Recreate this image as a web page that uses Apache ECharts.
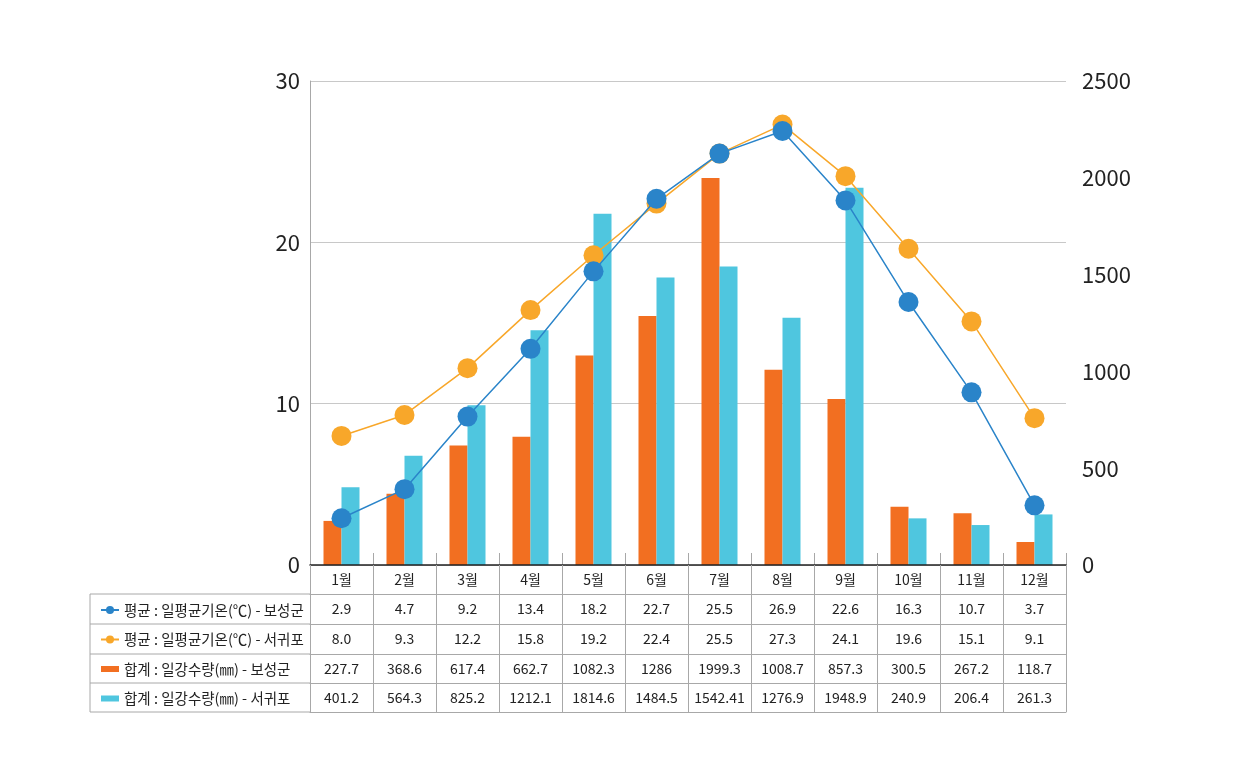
<!DOCTYPE html>
<html><head><meta charset="utf-8">
<script src="https://cdn.jsdelivr.net/npm/echarts@6/dist/echarts.min.js"></script>
<style>html,body{margin:0;padding:0;background:#fff}#c{width:1240px;height:773px}</style>
</head><body><div id="c"></div>
<script>
const months = ['1월','2월','3월','4월','5월','6월','7월','8월','9월','10월','11월','12월'];
const tempBoseong = [2.9, 4.7, 9.2, 13.4, 18.2, 22.7, 25.5, 26.9, 22.6, 16.3, 10.7, 3.7];
const tempSeogwipo = [8.0, 9.3, 12.2, 15.8, 19.2, 22.4, 25.5, 27.3, 24.1, 19.6, 15.1, 9.1];
const rainBoseong = [227.7, 368.6, 617.4, 662.7, 1082.3, 1286, 1999.3, 1008.7, 857.3, 300.5, 267.2, 118.7];
const rainSeogwipo = [401.2, 564.3, 825.2, 1212.1, 1814.6, 1484.5, 1542.41, 1276.9, 1948.9, 240.9, 206.4, 261.3];
const names = ['평균 : 일평균기온(℃) - 보성군','평균 : 일평균기온(℃) - 서귀포','합계 : 일강수량(㎜) - 보성군','합계 : 일강수량(㎜) - 서귀포'];
const leftTicks = [0, 10, 20, 30];
const rightTicks = [0, 500, 1000, 1500, 2000, 2500];

const C_BLUE = '#2a84c9', C_ORANGE = '#f8a72a', C_BAR1 = '#f26f21', C_BAR2 = '#4fc6df';
const FONT = '"Noto Sans CJK KR", "Noto Sans", sans-serif';
const GRID_L = 310, GRID_R = 1066, AXIS_Y = 565;
const rowLines = [594, 624, 654, 683, 712];
const rowStrings = [
  tempBoseong.map(v => v.toFixed(1)),
  tempSeogwipo.map(v => v.toFixed(1)),
  rainBoseong.map(v => String(v)),
  rainSeogwipo.map(v => String(v))
];

const chart = echarts.init(document.getElementById('c'));
const gridLine = '#a8a8a8';

const xAxes = [{
  type: 'category', data: months, gridIndex: 0, position: 'bottom', offset: 0,
  axisLine: { show: true, lineStyle: { color: '#222', width: 1.5 } },
  axisTick: { show: true, interval: 0, length: rowLines[0] - AXIS_Y, lineStyle: { color: gridLine } },
  axisLabel: { interval: 0, margin: 8, fontSize: 14, color: '#222', fontFamily: FONT },
  z: 5
}, {
  type: 'category', data: months, gridIndex: 0, position: 'bottom', offset: 0,
  axisLine: { show: false },
  axisTick: { show: true, inside: true, interval: 0, length: 12, lineStyle: { color: gridLine } },
  axisLabel: { show: false }
}];
rowStrings.forEach((arr, i) => {
  xAxes.push({
    type: 'category', data: months, gridIndex: 0, position: 'bottom',
    offset: rowLines[i] - AXIS_Y,
    axisLine: { show: true, lineStyle: { color: gridLine } },
    axisTick: { show: true, interval: 0, length: rowLines[i + 1] - rowLines[i], lineStyle: { color: gridLine } },
    axisLabel: { interval: 0, margin: 8, fontSize: 14, color: '#222', fontFamily: FONT,
      formatter: (v, idx) => arr[idx] },
  });
});
xAxes.push({
  type: 'category', data: months, gridIndex: 0, position: 'bottom',
  offset: rowLines[4] - AXIS_Y,
  axisLine: { show: true, lineStyle: { color: gridLine } },
  axisTick: { show: false }, axisLabel: { show: false }
});

const graphicEls = rowLines.map(y => ({
  type: 'line', shape: { x1: 90, y1: y, x2: GRID_L, y2: y }, style: { stroke: gridLine, lineWidth: 1 }, silent: true
}));
graphicEls.push({ type: 'line', shape: { x1: 90, y1: rowLines[0], x2: 90, y2: rowLines[4] }, style: { stroke: gridLine, lineWidth: 1 }, silent: true });

const barIcon = 'path://M0,0 M0,2 L18,2 L18,8 L0,8 Z M18,10';

chart.setOption({
  animation: false,
  textStyle: { fontFamily: FONT },
  grid: { left: GRID_L, right: 1240 - GRID_R, top: 81, bottom: 773 - AXIS_Y },
  legend: {
    orient: 'vertical', left: 95, top: 596, itemGap: 11.5,
    itemWidth: 18, itemHeight: 10,
    textStyle: { fontSize: 14.5, color: '#222', lineHeight: 18, fontFamily: FONT },
    data: [
      { name: names[0] },
      { name: names[1] },
      { name: names[2], icon: barIcon },
      { name: names[3], icon: barIcon }
    ],
    selectedMode: false
  },
  xAxis: xAxes,
  yAxis: [{
    type: 'value', min: leftTicks[0], max: leftTicks[leftTicks.length - 1], interval: 10,
    axisLine: { show: true, lineStyle: { color: gridLine } },
    axisTick: { show: false },
    splitLine: { show: true, lineStyle: { color: '#c8c8c8' } },
    axisLabel: { fontSize: 22, color: '#222', margin: 10, fontFamily: FONT }
  }, {
    type: 'value', min: rightTicks[0], max: rightTicks[rightTicks.length - 1], interval: 500,
    position: 'right',
    axisLine: { show: false }, axisTick: { show: false }, splitLine: { show: false },
    axisLabel: { fontSize: 22, color: '#222', margin: 16, fontFamily: FONT, formatter: v => String(v) }
  }],
  series: [{
    name: names[0], type: 'line', data: tempBoseong, yAxisIndex: 0, xAxisIndex: 0,
    symbol: 'circle', symbolSize: 20, z: 5,
    lineStyle: { color: C_BLUE, width: 1.5 }, itemStyle: { color: C_BLUE }
  }, {
    name: names[1], type: 'line', data: tempSeogwipo, yAxisIndex: 0, xAxisIndex: 0,
    symbol: 'circle', symbolSize: 20, z: 4,
    lineStyle: { color: C_ORANGE, width: 1.5 }, itemStyle: { color: C_ORANGE }
  }, {
    name: names[2], type: 'bar', data: rainBoseong, yAxisIndex: 1, xAxisIndex: 0,
    barWidth: 18, barGap: '0%', itemStyle: { color: C_BAR1 }, z: 2
  }, {
    name: names[3], type: 'bar', data: rainSeogwipo, yAxisIndex: 1, xAxisIndex: 0,
    barWidth: 18, barGap: '0%', itemStyle: { color: C_BAR2 }, z: 2
  }],
  graphic: graphicEls
});
</script></body></html>
